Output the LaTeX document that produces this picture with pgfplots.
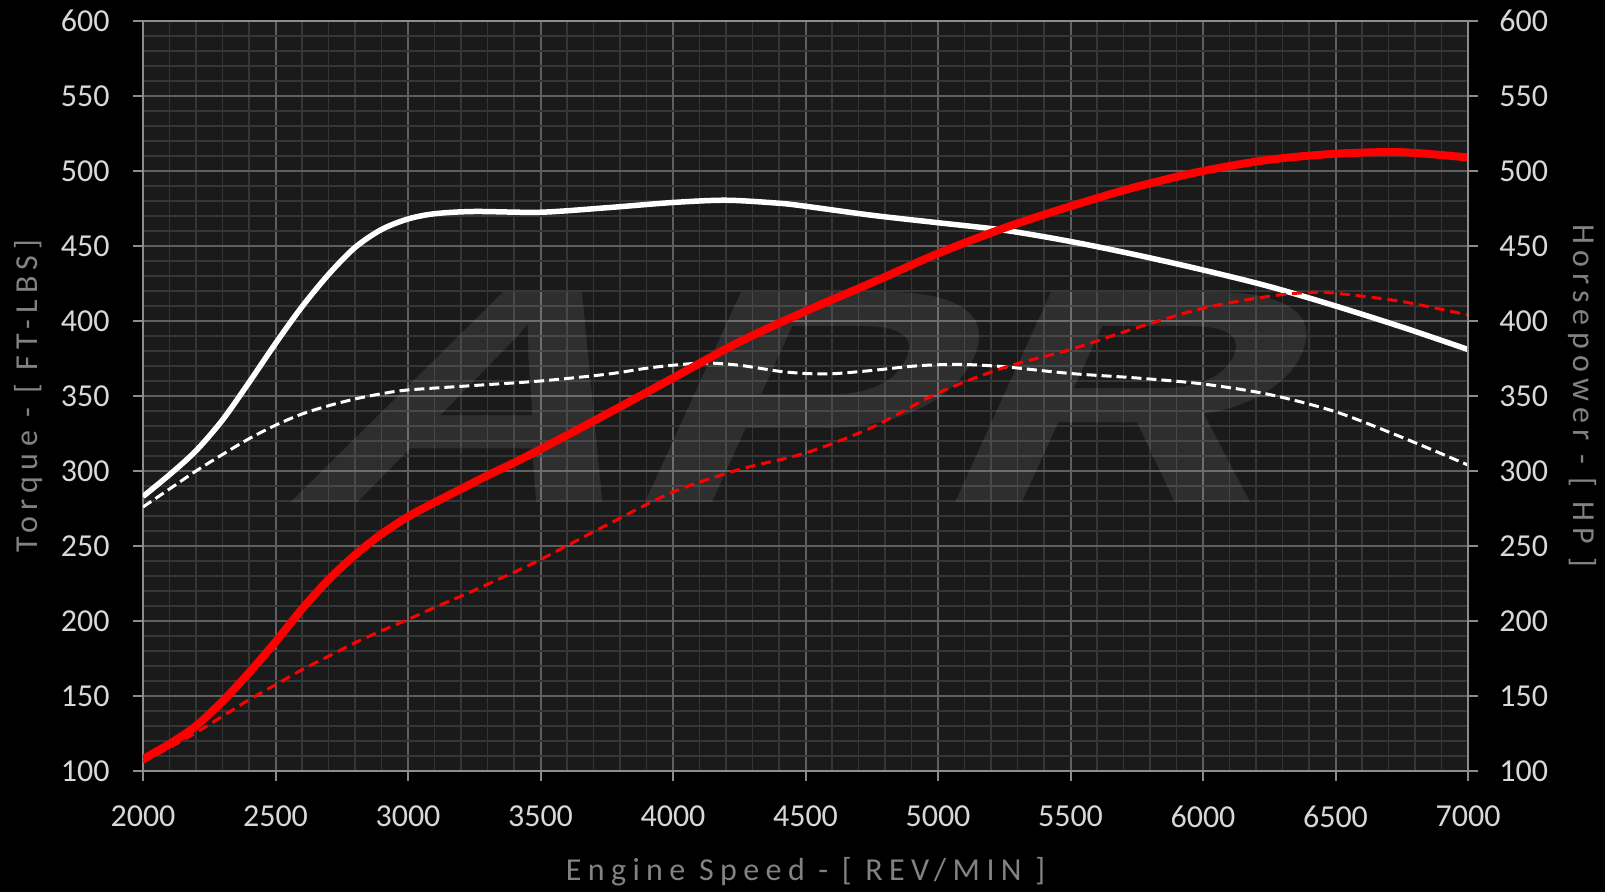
\documentclass[border=0pt]{standalone}
\usepackage{fontspec}
\setmainfont{Carlito}
\newfontface\logofont[FakeSlant=0.3]{Liberation Sans Bold}
\usepackage{graphicx}
\usepackage{pgfplots}
\pgfplotsset{compat=1.18}

\definecolor{plotbg}{HTML}{1A1A1A}
\definecolor{majgrid}{HTML}{5F5F5F}
\definecolor{mingrid}{HTML}{363636}
\definecolor{framecol}{HTML}{8C8C8C}
\definecolor{ticklab}{HTML}{D8D8D8}
\definecolor{desc}{HTML}{828282}
\definecolor{aprred}{HTML}{FF0000}

\pgfplotsset{
  dyno/.style={
    at={(0,0)}, anchor=south west,
    width=662.5pt, height=375pt, scale only axis,
    xmin=2000, xmax=7000, ymin=100, ymax=600,
    xtick={2000,2500,...,7000}, ytick={100,150,...,600},
    tick align=outside, major tick length=5pt, minor tick length=0pt,
    tick style={framecol, line width=1pt},
    axis line style={framecol, line width=1.25pt},
    scaled ticks=false,
    /pgf/number format/1000 sep={},
    /pgf/number format/assume math mode=true,
    tick label style={font=\fontsize{16}{19}\selectfont, text=ticklab, inner sep=0pt},
    label style={font=\fontsize{16}{19}\selectfont\addfontfeature{LetterSpace=20}, text=desc, inner sep=0pt},
  }
}

\begin{document}
\begin{tikzpicture}
\fill[black] (-71.5pt,-60.5pt) rectangle (731pt,385.5pt);
\useasboundingbox (-71.5pt,-60.5pt) rectangle (731pt,385.5pt);

\begin{axis}[
  dyno,
  minor x tick num=4, minor y tick num=4,
  grid=both,
  major grid style={majgrid, line width=1pt},
  minor grid style={mingrid, line width=0.6pt},
  axis background/.style={fill=plotbg},
  xtick pos=left, ytick pos=left,
  xticklabel style={anchor=north, yshift=-12pt},
  yticklabel style={anchor=east, xshift=-11.5pt},
  xlabel={Engine Speed - [ REV/MIN ]},
  ylabel={Torque - [ FT-LBS]},
  xlabel style={at={([yshift=-55pt]axis description cs:0.5,0)}, anchor=base},
  ylabel style={at={([xshift=-57pt]axis description cs:0,0.5)}, anchor=center},
]
% watermark
\node[text=white, text opacity=0.09, inner sep=0pt] at (axis cs:4365,349)
  {\resizebox{490pt}{105pt}{\logofont APR}};

% torque, tuned
\addplot[white, line width=2.75pt, smooth] coordinates {
 (2000,283) (2100,297.5) (2200,313.5) (2300,334) (2400,359) (2500,385)
 (2600,409.5) (2700,431) (2800,449) (2900,461) (3000,468) (3100,471.5)
 (3250,473) (3500,472.5) (3750,475.5) (4000,479) (4200,480.5) (4400,478.5)
 (4500,476.5) (4750,470.5) (5000,465.5) (5250,460.5) (5500,453) (5750,444)
 (6000,434) (6250,423) (6500,410) (6750,396) (7000,381)
};
% torque, stock
\addplot[white, line width=1.5pt, smooth, dash pattern=on 5pt off 2.5pt] coordinates {
 (2000,276) (2100,288) (2200,300) (2300,311) (2400,321.5) (2500,330.5)
 (2600,338) (2700,343.5) (2800,348) (2900,351.5) (3000,354) (3250,357)
 (3500,360) (3750,364.5) (3900,368.5) (4000,370.5) (4120,372) (4250,370.5)
 (4400,366.5) (4500,365) (4600,364.8) (4750,367) (4900,369.8) (5000,370.8)
 (5100,371) (5250,369.5) (5500,365) (5750,362) (6000,358) (6250,351)
 (6500,339.5) (6750,322.5) (7000,304)
};
% horsepower, stock
\addplot[aprred, line width=1.5pt, smooth, dash pattern=on 5pt off 3pt] coordinates {
 (2000,106) (2100,115.5) (2200,125.5) (2300,136.5) (2400,147.5) (2500,157.5)
 (2600,167.5) (2700,176.5) (2800,185.5) (2900,193.5) (3000,201) (3100,209)
 (3200,216.5) (3300,224.5) (3400,232.5) (3500,241) (3750,264) (4000,286)
 (4250,301) (4500,312) (4750,329) (5000,352) (5250,369) (5500,381)
 (5750,395.5) (6000,408.5) (6250,416.5) (6400,419) (6500,418.5) (6750,413)
 (7000,404)
};
% horsepower, tuned
\addplot[aprred, line width=4pt, smooth] coordinates {
 (2000,108) (2100,118) (2200,130) (2300,146.5) (2400,165.5) (2500,186)
 (2600,208) (2700,227.5) (2800,244) (2900,258) (3000,269.5) (3100,279)
 (3200,288) (3300,297) (3400,305.5) (3500,314.5) (3750,338) (4000,362)
 (4250,386) (4500,406.5) (4750,425.5) (5000,445) (5250,462) (5500,476.5)
 (5750,489.5) (6000,500) (6250,507.5) (6500,511.5) (6750,512.5) (7000,509)
};
\end{axis}

\begin{axis}[
  dyno,
  axis x line=none, axis y line*=right,
  axis line style={-},
  yticklabel style={anchor=west, xshift=10.5pt},
  ylabel={Horsepower - [ HP ]},
  ylabel style={at={([xshift=57pt]axis description cs:1,0.5)}, anchor=center, rotate=180},
]
\end{axis}
\end{tikzpicture}
\end{document}
